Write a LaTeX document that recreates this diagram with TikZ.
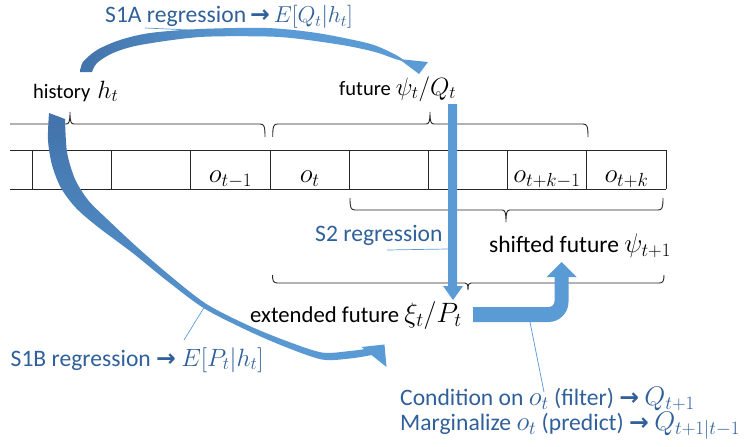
\RequirePackage{fix-cm}
\documentclass[tikz,border=0pt]{standalone}
\usepackage{fontspec}
\setmainfont{Carlito}
\newfontfamily\arrowfont{DejaVu Sans}
\usepackage{amsmath}
\definecolor{arrowblue}{HTML}{5B9BD5}
\definecolor{darkblue}{HTML}{4273AA}
\definecolor{labelblue}{HTML}{30609A}
\definecolor{gridline}{HTML}{262626}
\newcommand{\rarr}{{\arrowfont\bfseries →}}
\newcommand{\Ms}[2]{{\fontsize{#1}{#1}\selectfont$#2$}}
\begin{document}
\begin{tikzpicture}[x=1pt,y=-1pt,
  cellline/.style={draw=gridline,line width=0.9pt},
  bracepath/.style={draw=gridline,line width=0.9pt},
  leader/.style={draw=arrowblue,line width=0.7pt},
  bluelabel/.style={text=labelblue,inner sep=0pt,anchor=base west,font=\fontsize{23.6}{27}\selectfont},
  blacklabel/.style={text=black,inner sep=0pt,anchor=base west},
  celltext/.style={inner sep=0pt,anchor=base,font=\fontsize{27}{30}\selectfont}]
\useasboundingbox (0,0) rectangle (745,447);

% ---- cells
\draw[cellline] (10,150) -- (666,150);
\draw[cellline] (10,189) -- (666,189);
\foreach \x in {32.5,111.7,190.7,270,349.3,428.3,507.3,586.7,666}
  \draw[cellline] (\x,150) -- (\x,189);
\node[celltext] (om1) at (230.5,182) {$o_{t-1}$};
\node[celltext] (o0) at (309.7,182) {$o_{t}$};
\node[celltext] (okm1) at (547,182) {$o_{t+k-1}$};
\node[celltext] (ok) at (626.4,182) {$o_{t+k}$};

% ---- braces above (tip up)
\draw[bracepath] (10,124) -- (66,124) .. controls (69,124) and (70,122) .. (70,112)
  .. controls (70,122) and (71,124) .. (74,124) -- (260,124)
  .. controls (264,124) and (265,126) .. (265,137);
\draw[bracepath] (272.7,137) .. controls (272.7,126) and (273.7,124) .. (277.7,124)
  -- (426,124) .. controls (429,124) and (430,122) .. (430,112)
  .. controls (430,122) and (431,124) .. (434,124) -- (583,124)
  .. controls (587,124) and (588,126) .. (588,137);
% ---- braces below (tip down)
\draw[bracepath] (350,198) .. controls (350,208) and (351,210) .. (355,210)
  -- (502,210) .. controls (505,210) and (506,212) .. (506,222)
  .. controls (506,212) and (507,210) .. (510,210) -- (658,210)
  .. controls (662,210) and (663,208) .. (663,198);
\draw[bracepath] (272.5,275) .. controls (272.5,281) and (273.5,283) .. (277.5,283)
  -- (465,283) .. controls (467,283) and (468,284) .. (468,290)
  .. controls (468,284) and (469,283) .. (471,283) -- (659,283)
  .. controls (663,283) and (664,281) .. (664,275);

% ---- text
\node[blacklabel,font=\fontsize{20.5}{24}\selectfont] (hist) at (33,98) {history\hspace{7pt}\Ms{25}{h_t}};
\node[blacklabel,font=\fontsize{20.5}{24}\selectfont] (fut) at (339,95) {future\hspace{5pt}\Ms{25}{\psi_t/Q_t}};
\node[blacklabel,font=\fontsize{23.5}{27}\selectfont] (shifted) at (489,252) {shifted future \Ms{27}{\psi_{t+1}}};
\node[blacklabel,font=\fontsize{22.7}{27}\selectfont] (ext) at (250,322) {extended future \Ms{28}{\xi_t/P_t}};
\node[bluelabel] (s1a) at (105,23) {S1A regression\,\rarr\,\Ms{23}{E[Q_t|h_t]}};
\node[bluelabel] (s2) at (315,241) {S2 regression};
\node[bluelabel] (s1b) at (10.5,366) {S1B regression \rarr\ \Ms{25}{E[P_t|h_t]}};
\node[bluelabel] (cond) at (400,405) {Condition on \Ms{27}{o_t} (filter) \rarr\ \Ms{27}{Q_{t+1}}};
\node[bluelabel] (marg) at (400,430) {Marginalize \Ms{27}{o_t} (predict) \rarr\ \Ms{27}{Q_{t+1|t-1}}};

% ---- S1A curved arrow
\shade[left color=darkblue,right color=arrowblue,middle color=arrowblue]
  plot[smooth] coordinates {(80,72) (83,62) (97,50) (120,40) (150,33) (200,29) (267,28) (317,33) (367,43) (387,50.5) (401,58) (406,64)}
  -- plot[smooth] coordinates {(415,64) (397,59.5) (375,52) (345,45.5) (300,39) (267,36.5) (200,37) (140,45) (113,53) (97,63) (92,72)}
  -- cycle;
\fill[arrowblue] (399,59) -- (428,62) -- (419,74) -- cycle;
\coordinate (s1aA) at (145,28);
\coordinate (s1aB) at (190,30);
\draw[leader] (s1aA) -- (s1aB);

% ---- S1B curved arrow
\shade[top color=darkblue,bottom color=arrowblue]
  plot[smooth] coordinates {(49,113) (48,140) (52,165) (61,188) (76,208) (98,227) (132.7,253) (165.1,279.3) (203.7,308.1) (247,330.3) (285,346.8) (322,359.5) (350,358.5) (372,355)}
  -- plot[smooth] coordinates {(372,348) (350,351) (322,352.5) (287,341.2) (249,325.7) (206.3,303.9) (168.9,274.7) (137.3,247.3) (107,219) (88,200) (75,179) (67,152) (65,119)}
  -- cycle;
\fill[arrowblue] (361.5,347) -- (384.5,344.5) -- (386.5,367) -- cycle;
\coordinate (s1bA) at (184,340);
\coordinate (s1bB) at (205,306);
\draw[leader] (s1bA) -- (s1bB);

% ---- S2 straight arrow
\fill[arrowblue] (448,104) -- (457,104) -- (457,286) -- (463,286) -- (453,300) -- (443,286) -- (448,286) -- cycle;
\coordinate (s2A) at (387,250);
\coordinate (s2B) at (448,249);
\draw[leader] (s2A) -- (s2B);

% ---- bent arrow
\fill[arrowblue] (473,307) -- (548.5,307) .. controls (552,307) and (554.5,304.5) .. (554.5,301)
  -- (554.5,277) -- (546.5,277) -- (561.5,262) -- (576.5,277) -- (568.5,277) -- (568.5,302)
  .. controls (568.5,313) and (559.5,322) .. (548.5,322) -- (473,322) -- cycle;
\coordinate (bentA) at (530,322);
\coordinate (bentB) at (544,392);
\draw[leader] (bentA) -- (bentB);
\end{tikzpicture}
\end{document}
